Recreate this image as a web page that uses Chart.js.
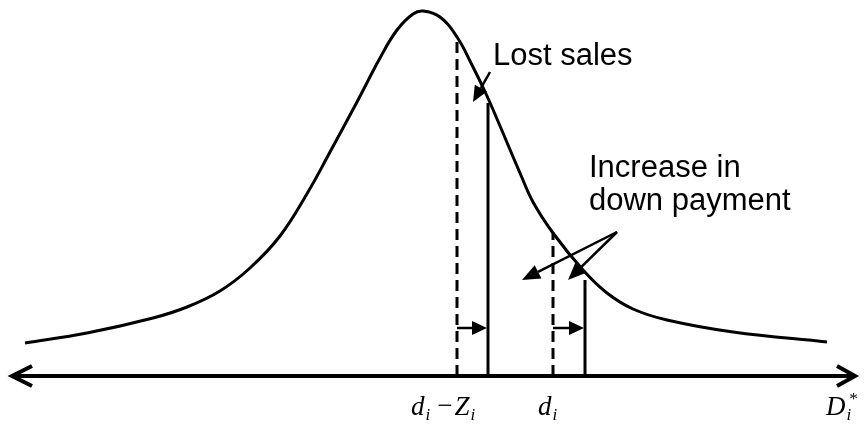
<!DOCTYPE html>
<html>
<head>
<meta charset="utf-8">
<script src="https://cdn.jsdelivr.net/npm/chart.js@4.4.0/dist/chart.umd.min.js"></script>
<style>
  html, body { margin: 0; padding: 0; background: #fff; }
</style>
</head>
<body>
<canvas id="demandChart" width="864" height="436"></canvas>
<script>
// demand (horizontal) and density height above the axis
const demandX = [25, 87, 153, 187, 220, 250, 280, 308, 330, 357, 380, 397, 413, 423, 440, 457, 473, 487, 500, 520, 533, 553, 583, 607, 633, 667, 733, 827];
const density = [33, 43, 58, 69, 85, 108, 140, 184, 224, 274, 318, 346, 362, 365, 359, 339, 309, 280, 250, 203, 174, 143, 106, 83, 67, 56, 44, 34];

// reference levels: d_i - Z_i (dashed/solid pair) and d_i (dashed/solid pair)
const dashedX = [457, 553];
const dashedTop = [336, 144];
const solidX = [488, 585];
const solidTop = [273, 96];
const shiftLevel = 48;

// axis extent
const axisFrom = 12;
const axisTo = 855;

// callout arrows: [tailX, tailY, tipX, tipY]
const lostSalesArrow = [490, 304, 473, 274];
const paymentArrows = [[617, 144, 522, 96], [617, 144, 568, 96]];

// text labels
const calloutLabels = [
    { text: 'Lost sales', x: 493, y: 311 },
    { text: 'Increase in', x: 589, y: 199 },
    { text: 'down payment', x: 589, y: 166 }
];
const axisLabels = [
    { parts: [['d', 'm'], ['i', 'sub'], ['\u2212', 'r'], ['Z', 'm'], ['i', 'sub']], x: 411, y: -39 },
    { parts: [['d', 'm'], ['i', 'sub']], x: 538, y: -39 },
    { parts: [['D', 'm'], ['i', 'subsup']], x: 826, y: -39 }
];

const black = '#000';

function segment(x0, x1, y0, y1, dash, width) {
    return {
        data: [{ x: x0, y: y0 }, { x: x1, y: y1 }],
        borderColor: black,
        borderWidth: width,
        borderDash: dash,
        pointRadius: 0,
        tension: 0
    };
}

const datasets = [
    {
        label: 'density',
        data: demandX.map((x, i) => ({ x: x, y: density[i] })),
        borderColor: black,
        borderWidth: 3,
        pointRadius: 0,
        tension: 0.4
    },
    segment(axisFrom, axisTo, 0, 0, [], 4),
    {
        data: [{ x: axisFrom + 20, y: 10 }, { x: axisFrom, y: 0 }, { x: axisFrom + 20, y: -10 }],
        borderColor: black, borderWidth: 4, pointRadius: 0, tension: 0
    },
    {
        data: [{ x: axisTo - 18, y: 10 }, { x: axisTo, y: 0 }, { x: axisTo - 18, y: -10 }],
        borderColor: black, borderWidth: 4, pointRadius: 0, tension: 0
    }
];
dashedX.forEach((x, i) => datasets.push(segment(x, x, 0, dashedTop[i], [11, 6], 3)));
solidX.forEach((x, i) => datasets.push(segment(x, x, 0, solidTop[i], [], 3)));

function arrow(ctx, x0, y0, x1, y1, len, half) {
    const a = Math.atan2(y1 - y0, x1 - x0);
    const bx = x1 - Math.cos(a) * len;
    const by = y1 - Math.sin(a) * len;
    ctx.beginPath();
    ctx.moveTo(x0, y0);
    ctx.lineTo(bx, by);
    ctx.stroke();
    ctx.beginPath();
    ctx.moveTo(x1, y1);
    ctx.lineTo(bx + Math.sin(a) * half, by - Math.cos(a) * half);
    ctx.lineTo(bx - Math.sin(a) * half, by + Math.cos(a) * half);
    ctx.closePath();
    ctx.fill();
}

const annotations = {
    id: 'annotations',
    afterDatasetsDraw(chart) {
        const { ctx, scales: { x, y } } = chart;
        ctx.save();
        ctx.strokeStyle = black;
        ctx.fillStyle = black;
        ctx.lineWidth = 2.5;

        // shift arrows from dashed to solid
        dashedX.forEach((dx, i) => {
            arrow(ctx, x.getPixelForValue(dx), y.getPixelForValue(shiftLevel),
                x.getPixelForValue(solidX[i]) - 1, y.getPixelForValue(shiftLevel), 15, 7);
        });

        const [lx0, ly0, lx1, ly1] = lostSalesArrow;
        arrow(ctx, x.getPixelForValue(lx0), y.getPixelForValue(ly0),
            x.getPixelForValue(lx1), y.getPixelForValue(ly1), 16, 7);

        paymentArrows.forEach(([ax0, ay0, ax1, ay1]) => {
            arrow(ctx, x.getPixelForValue(ax0), y.getPixelForValue(ay0),
                x.getPixelForValue(ax1), y.getPixelForValue(ay1), 18, 7.5);
        });

        ctx.font = '31px "Liberation Sans", Arial, sans-serif';
        ctx.textBaseline = 'alphabetic';
        calloutLabels.forEach(l => {
            ctx.fillText(l.text, x.getPixelForValue(l.x), y.getPixelForValue(l.y));
        });

        axisLabels.forEach(l => {
            let px = x.getPixelForValue(l.x);
            const py = y.getPixelForValue(l.y);
            l.parts.forEach(([t, kind]) => {
                if (kind === 'm') {
                    ctx.font = 'italic 27px "Liberation Serif", "Times New Roman", serif';
                    ctx.fillText(t, px, py);
                    px += ctx.measureText(t).width + 1;
                } else if (kind === 'r') {
                    ctx.font = '27px "Liberation Serif", "Times New Roman", serif';
                    ctx.fillText(t, px, py - 1);
                    px += ctx.measureText(t).width + 2;
                } else {
                    ctx.font = 'italic 17px "Liberation Serif", "Times New Roman", serif';
                    ctx.fillText(t, px, py + 5);
                    if (kind === 'subsup') ctx.fillText('*', px + 2, py - 11);
                    px += ctx.measureText(t).width + 7;
                }
            });
        });
        ctx.restore();
    }
};

new Chart(document.getElementById('demandChart'), {
    type: 'line',
    data: { datasets: datasets },
    plugins: [annotations],
    options: {
        responsive: false,
        animation: false,
        events: [],
        layout: { padding: 0 },
        plugins: { legend: { display: false }, tooltip: { enabled: false } },
        scales: {
            x: { type: 'linear', min: 0, max: 864, display: false },
            y: { type: 'linear', min: -60, max: 376, display: false }
        },
        elements: { line: { borderCapStyle: 'butt', fill: false } },
        datasets: { line: { clip: false } }
    }
});
</script>
</body>
</html>
